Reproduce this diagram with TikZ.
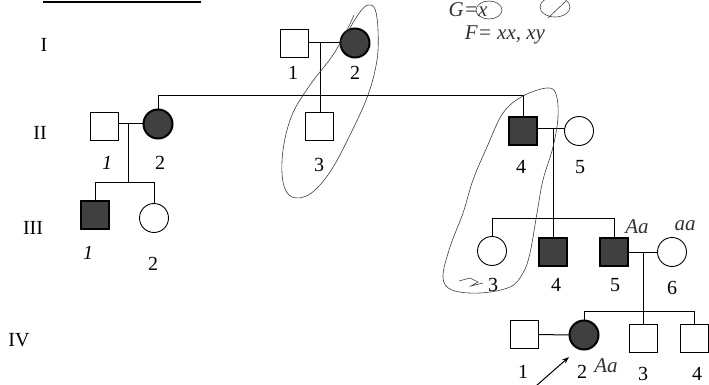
\documentclass[tikz,border=0pt]{standalone}
\usepackage{fontspec}
\setmainfont{Liberation Serif}
\usetikzlibrary{arrows.meta}
\begin{document}
\begin{tikzpicture}[x=1pt,y=-1pt,
  sq/.style={draw,line width=0.9pt,minimum size=28pt,inner sep=0pt,outer sep=0pt},
  ci/.style={circle,draw,line width=0.9pt,minimum size=29pt,inner sep=0pt,outer sep=0pt},
  aff/.style={fill=black!75,line width=2pt},
  lbl/.style={font=\fontsize{20}{22}\selectfont,inner sep=0pt},
  ilbl/.style={font=\fontsize{20}{22}\selectfont\itshape,inner sep=0pt},
  gen/.style={font=\fontsize{20}{22}\selectfont,inner sep=0pt},
  hand/.style={font=\fontsize{21}{23}\selectfont\itshape,inner sep=0pt,text=black!80},
  ln/.style={line width=1pt},
  pen/.style={line width=0.6pt,draw=black!75}]
\useasboundingbox (0,0) rectangle (709,385);
\fill[white] (0,0) rectangle (709,385);

% title underline
\coordinate (ul1) at (43,2); \coordinate (ul2) at (201,2);
\draw[line width=1.1pt] (ul1) -- (ul2);

% generation labels
\node[gen] (gI) at (44,45) {I};
\node[gen] (gII) at (40,133) {II};
\node[gen] (gIII) at (33,228) {III};
\node[gen] (gIV) at (19,340) {IV};

% Generation I
\node[sq] (i1) at (294.5,43) {};
\node[ci,aff] (i2) at (355,43) {};
\draw[ln] (i1.east) -- (i2.west);
\coordinate (m1) at (320,43);
\node[lbl] (li1) at (293,73) {1};
\node[lbl] (li2) at (355,73) {2};

% Generation II
\node[sq] (ii1) at (104.5,126) {};
\node[ci,aff] (ii2) at (158,124) {};
\node[sq] (ii3) at (319,126) {};
\node[sq,aff] (ii4) at (523,131) {};
\node[ci] (ii5) at (579,131) {};
\coordinate (s2) at (158,96);
\coordinate (s4) at (523,96);
\draw[ln] (ii2.north) -- (s2) -- (s4) -- (ii4.north);
\draw[ln] (m1) -- (m1 |- ii3.north);
\coordinate (m2) at (128,124);
\draw[ln] (ii1.east |- m2) -- (ii2.west);
\coordinate (m3) at (553,129);
\draw[ln] (ii4.east |- m3) -- (ii5.west |- m3);
\node[ilbl] (lii1) at (107,163) {1};
\node[lbl] (lii2) at (160,163) {2};
\node[lbl] (lii3) at (319,165) {3};
\node[lbl] (lii4) at (521,167) {4};
\node[lbl] (lii5) at (580,167) {5};

% Generation III (left)
\coordinate (c2) at (128,182);
\draw[ln] (m2) -- (c2);
\node[sq,aff] (iii1) at (95,215) {};
\node[ci] (iii2) at (154,218) {};
\coordinate (s31) at (95,182);
\coordinate (s32) at (154,182);
\draw[ln] (iii1.north) -- (s31) -- (s32) -- (iii2.north);
\node[ilbl] (liii1) at (88,253) {1};
\node[lbl] (liii2) at (153,264) {2};

% Generation III (right)
\node[ci] (iii3) at (492,251) {};
\node[sq,aff] (iii4) at (553,251.5) {};
\node[sq,aff] (iii5) at (614,251.5) {};
\node[ci] (iii6) at (672,252) {};
\coordinate (s33) at (492,218);
\coordinate (s35) at (614,218);
\coordinate (c3) at (553,218);
\draw[ln] (m3) -- (c3);
\draw[ln] (iii3.north) -- (s33) -- (s35) -- (iii5.north);
\draw[ln] (c3) -- (iii4.north);
\coordinate (m4) at (643,252);
\draw[ln] (iii5.east |- m4) -- (iii6.west);
\node[lbl] (liii3) at (493,285) {3};
\node[lbl] (liii4) at (556,285) {4};
\node[lbl] (liii5) at (615,285) {5};
\node[lbl] (liii6) at (672,288) {6};

% Generation IV
\node[sq] (iv1) at (524,334.5) {};
\node[ci,aff] (iv2) at (584,335) {};
\node[sq] (iv3) at (643,338) {};
\node[sq] (iv4) at (694.5,338) {};
\coordinate (c4) at (643,311);
\draw[ln] (m4) -- (c4);
\coordinate (s42) at (584,311);
\coordinate (s44) at (694.5,311);
\draw[ln] (iv2.north) -- (s42) -- (s44) -- (iv4.north);
\draw[ln] (c4) -- (iv3.north);
\draw[ln] (iv1.east) -- (iv2.west);
\node[lbl] (liv1) at (523,372) {1};
\node[lbl] (liv2) at (582,372) {2};
\node[lbl] (liv3) at (643,374) {3};
\node[lbl] (liv4) at (697,374) {4};

% proband arrow
\coordinate (arS) at (536,386);
\coordinate (arE) at (569,357);
\draw[line width=1pt,-{Stealth[length=7pt,width=5pt]}] (arS) -- (arE);

% handwritten notes
\node[hand] (hAa1) at (637,227) {Aa};
\node[hand] (haa) at (685,226) {aa};
\node[hand] (hAa2) at (606,366) {Aa};
\node[hand] (hG) at (468,10) {G=x};
\node[hand] (hF) at (505,35) {F= xx, xy};
\draw[pen] (489,10) ellipse [x radius=13pt,y radius=9pt];
\draw[pen] (555,7) ellipse [x radius=15pt,y radius=10pt];
\draw[pen] (548,18) -- (566,1);

% hand-drawn loops
\draw[pen] plot[smooth,tension=0.6] coordinates {(340,47) (350,28) (360,12) (368,5) (375,9) (378,30) (377,60) (368,95) (350,135) (330,172) (310,194) (292,197) (283,182) (283,150) (292,115) (310,85) (333,55) (347,30) (354,15)};
\draw[pen] plot[smooth cycle,tension=0.6] coordinates {(523,96) (547,88) (556,94) (558,117) (553,147) (543,180) (537,213) (530,253) (523,273) (510,287) (480,293) (452,290) (443,277) (450,247) (463,213) (473,180) (487,147) (503,113)};
\draw[pen] (459,281) -- (470,278) -- (478,282) -- (471,286) -- (483,283);
\end{tikzpicture}
\end{document}
